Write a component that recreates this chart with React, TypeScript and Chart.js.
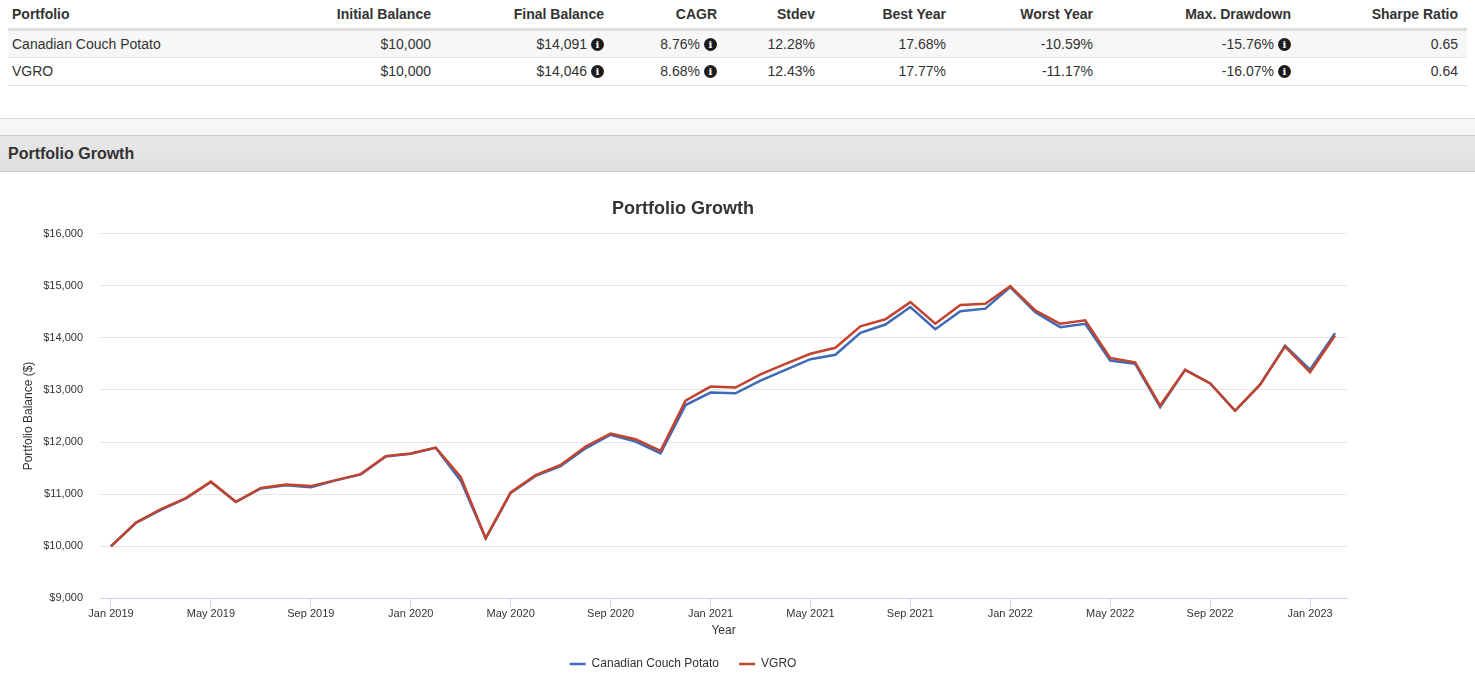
import React, { useEffect, useRef } from "react";
import { Chart, registerables } from "chart.js";

Chart.register(...registerables);

const FONT = '"Liberation Sans", Arial, Helvetica, sans-serif';

// ---- Chart data ----
const months = [
  "Jan 2019", "Feb 2019", "Mar 2019", "Apr 2019", "May 2019", "Jun 2019", "Jul 2019", "Aug 2019", "Sep 2019", "Oct 2019", "Nov 2019", "Dec 2019",
  "Jan 2020", "Feb 2020", "Mar 2020", "Apr 2020", "May 2020", "Jun 2020", "Jul 2020", "Aug 2020", "Sep 2020", "Oct 2020", "Nov 2020", "Dec 2020",
  "Jan 2021", "Feb 2021", "Mar 2021", "Apr 2021", "May 2021", "Jun 2021", "Jul 2021", "Aug 2021", "Sep 2021", "Oct 2021", "Nov 2021", "Dec 2021",
  "Jan 2022", "Feb 2022", "Mar 2022", "Apr 2022", "May 2022", "Jun 2022", "Jul 2022", "Aug 2022", "Sep 2022", "Oct 2022", "Nov 2022", "Dec 2022",
  "Jan 2023", "Feb 2023",
];

const ccpValues = [
  10000, 10450, 10700, 10920, 11235, 10850, 11110, 11170, 11135, 11265, 11380, 11725,
  11775, 11890, 11260, 10150, 11025, 11350, 11540, 11880, 12140, 12010, 11785, 12710,
  12950, 12935, 13180, 13385, 13590, 13675, 14095, 14255, 14590, 14165, 14510, 14560,
  14975, 14490, 14205, 14270, 13565, 13500, 12670, 13385, 13130, 12600, 13100, 13850,
  13390, 14091,
];

const vgroValues = [
  10000, 10455, 10715, 10925, 11240, 10855, 11120, 11185, 11155, 11270, 11385, 11730,
  11780, 11895, 11330, 10155, 11035, 11365, 11560, 11915, 12165, 12055, 11830, 12795,
  13065, 13045, 13300, 13500, 13695, 13810, 14220, 14355, 14685, 14270, 14630, 14655,
  14990, 14525, 14270, 14335, 13615, 13530, 12700, 13385, 13125, 12600, 13100, 13830,
  13340, 14046,
];

const tickMonths = ["Jan 2019", "May 2019", "Sep 2019", "Jan 2020", "May 2020", "Sep 2020", "Jan 2021", "May 2021", "Sep 2021", "Jan 2022", "May 2022", "Sep 2022", "Jan 2023"];

const seriesNames = ["Canadian Couch Potato", "VGRO"];
const seriesColors = ["#3e6bb8", "#c4432d"];

// ---- Table data ----
const tableHeaders = ["Portfolio", "Initial Balance", "Final Balance", "CAGR", "Stdev", "Best Year", "Worst Year", "Max. Drawdown", "Sharpe Ratio"];
const rowCCP = ["Canadian Couch Potato", "$10,000", "$14,091", "8.76%", "12.28%", "17.68%", "-10.59%", "-15.76%", "0.65"];
const rowVGRO = ["VGRO", "$10,000", "$14,046", "8.68%", "12.43%", "17.77%", "-11.17%", "-16.07%", "0.64"];
const tableRows = [rowCCP, rowVGRO];
const infoColumns = [2, 3, 7];
const colWidths = [242, 190, 173, 113, 98, 131, 147, 198, 167];

function InfoIcon() {
  return (
    <span
      style={{
        display: "inline-block",
        width: 13,
        height: 13,
        borderRadius: "50%",
        background: "#1c1c1c",
        color: "#fff",
        fontSize: 10,
        lineHeight: "13px",
        textAlign: "center",
        fontWeight: "bold",
        fontFamily: '"DejaVu Serif", serif',
        verticalAlign: "1px",
        marginLeft: 4,
      }}
    >
      i
    </span>
  );
}

function GrowthChart() {
  const ref = useRef<HTMLCanvasElement | null>(null);
  useEffect(() => {
    if (!ref.current) return;
    const toPoints = (vals: number[]) => vals.map((v, i) => ({ x: i, y: v }));
    const tickIdx = tickMonths.map((m) => months.indexOf(m));
    const chart = new Chart(ref.current, {
      type: "line",
      data: {
        datasets: [
          {
            label: seriesNames[0],
            data: toPoints(ccpValues),
            borderColor: seriesColors[0],
            backgroundColor: seriesColors[0],
            borderWidth: 2.5,
            pointRadius: 0,
            tension: 0,
            order: 1,
          },
          {
            label: seriesNames[1],
            data: toPoints(vgroValues),
            borderColor: seriesColors[1],
            backgroundColor: seriesColors[1],
            borderWidth: 2.5,
            pointRadius: 0,
            tension: 0,
            order: 0,
          },
        ],
      },
      options: {
        animation: false,
        responsive: false,
        devicePixelRatio: 1,
        layout: { padding: { left: 19, right: 19, top: 0, bottom: 0 } },
        plugins: {
          tooltip: { enabled: false },
          title: {
            display: true,
            text: "Portfolio Growth",
            color: "#333333",
            font: { family: FONT, size: 18, weight: "bold" },
            padding: { top: 26, bottom: 14 },
          },
          legend: {
            position: "bottom",
            labels: {
              usePointStyle: true,
              pointStyle: "line",
              pointStyleWidth: 16,
              color: "#333333",
              font: { family: FONT, size: 12 },
              padding: 20,
              sort: (a: any, b: any) => a.datasetIndex - b.datasetIndex,
            },
          },
        },
        scales: {
          x: {
            type: "linear",
            min: -0.44,
            max: 49.48,
            afterBuildTicks: (s: any) => {
              s.ticks = tickIdx.map((v) => ({ value: v }));
            },
            border: { display: true, color: "#ccd6eb", width: 1 },
            grid: { display: true, drawOnChartArea: false, drawTicks: true, tickLength: 9, color: "#ccd6eb" },
            ticks: {
              autoSkip: false,
              maxRotation: 0,
              padding: 0,
              color: "#333333",
              font: { family: FONT, size: 11 },
              callback: (v: any) => months[Number(v)] ?? "",
            },
            title: {
              display: true,
              text: "Year",
              color: "#333333",
              font: { family: FONT, size: 12 },
              padding: { top: 3, bottom: 0 },
            },
          },
          y: {
            min: 9000,
            max: 16000,
            afterFit: (s: any) => {
              s.width = 81;
            },
            border: { display: false },
            grid: { color: "#e6e6e6", drawTicks: false },
            ticks: {
              stepSize: 1000,
              padding: 17,
              color: "#333333",
              font: { family: FONT, size: 11 },
              callback: (v: any) => "$" + Number(v).toLocaleString("en-US"),
            },
            title: {
              display: true,
              text: "Portfolio Balance ($)",
              color: "#333333",
              font: { family: FONT, size: 12 },
              padding: { top: 2, bottom: 0 },
            },
          },
        },
      },
    } as any);
    return () => chart.destroy();
  }, []);
  return (
    <canvas
      ref={ref}
      width={1366}
      height={508}
      style={{ position: "absolute", left: 0, top: 172, width: 1366, height: 508, display: "block" }}
    />
  );
}

export default function App() {
  return (
    <div style={{ position: "relative", width: 1475, height: 680, overflow: "hidden", background: "#fff" }}>
      <style>{"body{margin:0;overflow:hidden;background:#fff}"}</style>
      <table
        style={{
          position: "absolute",
          left: 8,
          top: 0,
          width: 1459,
          borderCollapse: "collapse",
          tableLayout: "fixed",
          fontFamily: FONT,
          fontSize: 14,
          color: "#333",
        }}
      >
        <colgroup>
          {colWidths.map((w, i) => (
            <col key={i} style={{ width: w }} />
          ))}
        </colgroup>
        <thead>
          <tr style={{ height: 29 }}>
            {tableHeaders.map((h, i) => (
              <th
                key={i}
                style={{
                  padding: "0 9px 0 4px",
                  textAlign: i === 0 ? "left" : "right",
                  borderBottom: "3px solid #dcdcdc",
                  fontWeight: "bold",
                  whiteSpace: "nowrap",
                }}
              >
                {h}
              </th>
            ))}
          </tr>
        </thead>
        <tbody>
          {tableRows.map((row, r) => (
            <tr key={r} style={{ height: 28, background: r === 0 ? "#f7f7f7" : "#fff" }}>
              {row.map((c, i) => (
                <td
                  key={i}
                  style={{
                    padding: "0 9px 0 4px",
                    textAlign: i === 0 ? "left" : "right",
                    borderBottom: "1px solid #e0e0e0",
                    whiteSpace: "nowrap",
                  }}
                >
                  {c}
                  {infoColumns.includes(i) ? <InfoIcon /> : null}
                </td>
              ))}
            </tr>
          ))}
        </tbody>
      </table>
      <div
        style={{
          position: "absolute",
          left: 0,
          top: 118,
          width: 1475,
          height: 17,
          borderTop: "1px solid #d8d8d8",
          background: "#f4f6f8",
          boxSizing: "border-box",
        }}
      />
      <div
        style={{
          position: "absolute",
          left: 0,
          top: 135,
          width: 1475,
          height: 37,
          borderTop: "1px solid #c9c9c9",
          borderBottom: "1px solid #c9c9c9",
          background: "linear-gradient(#e8e8e8, #dfdfdf)",
          boxSizing: "border-box",
          fontFamily: FONT,
          fontWeight: "bold",
          fontSize: 16,
          color: "#333",
          paddingLeft: 8,
          lineHeight: "35px",
        }}
      >
        Portfolio Growth
      </div>
      <GrowthChart />
    </div>
  );
}
